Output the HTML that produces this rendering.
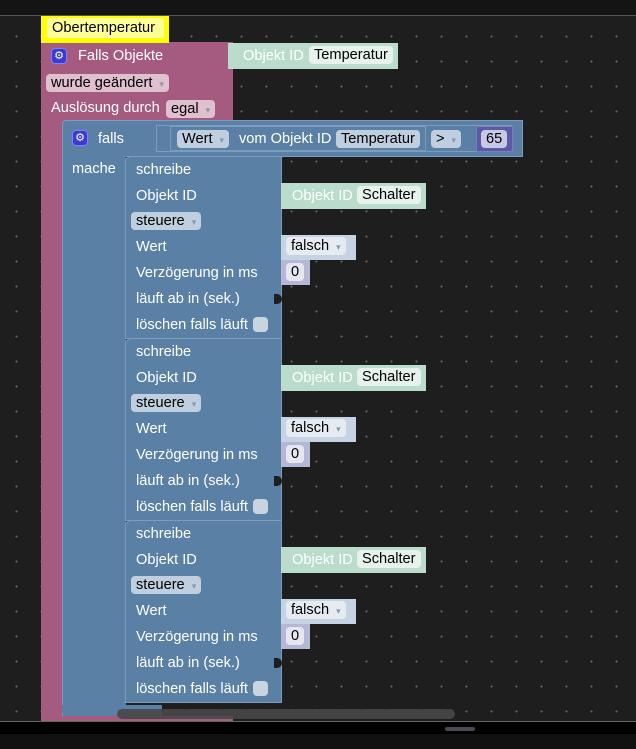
<!DOCTYPE html><html><head><meta charset="utf-8"><style>
*{margin:0;padding:0;box-sizing:border-box}
body{width:636px;height:749px;overflow:hidden;background:#1e1e1e;font-family:"Liberation Sans",sans-serif;font-size:14.6px;position:relative}
#grid{position:absolute;left:0;top:16px;width:636px;height:706px;background-image:radial-gradient(circle,#6a6a6a 0.8px,transparent 1.2px);background-size:25px 25px;background-position:4px 8px}
.a{position:absolute}
.t{position:absolute;color:#fff;white-space:nowrap;line-height:16px}
.f{position:absolute;background:#e6ebf0;color:#000;border-radius:4px;height:18px;line-height:18px;padding:0 5px;white-space:nowrap}
.dd:after{content:"▾";font-size:9px;color:#8898a8;margin-left:7px}
.pink{background:#a55b80}
.blue{background:#5b80a5}
.chk{position:absolute;width:15px;height:15px;background:#c8d4e0;border-radius:4px}
.gear{position:absolute;width:16px;height:16px;background:#3b3bd0;border-radius:4px;border:1px solid #8080ff;color:#fff;font-size:11px;line-height:14px;text-align:center}
</style></head><body>
<div class="a" style="left:0;top:0;width:636px;height:15px;background:#141414"></div>
<div class="a" style="left:0;top:15px;width:636px;height:1px;background:#555"></div>
<div id="grid"></div>

<div class="a pink" style="left:41px;top:42px;width:192px;height:80px"></div>
<div class="a pink" style="left:41px;top:120px;width:22px;height:602px"></div>
<div class="a pink" style="left:41px;top:716px;width:192px;height:6px"></div>
<div class="gear" style="left:51px;top:48px">⚙</div>
<div class="t" style="left:78px;top:48px">Falls Objekte</div>
<div class="f dd" style="left:46px;top:74px;background:#e0bfcf">wurde geändert</div>
<div class="t" style="left:51px;top:100px">Auslösung durch</div>
<div class="f dd" style="left:166px;top:100px;background:#e0bfcf">egal</div>
<div class="a" style="left:41px;top:16px;width:128px;height:27px;background:#ffff00"></div>
<div class="a" style="left:47px;top:18px;width:117px;height:20px;background:#ffff99;border-radius:3px"></div>
<div class="t" style="left:52px;top:20px;color:#000">Obertemperatur</div>
<div class="a" style="left:228px;top:43px;width:170px;height:26px;background:#b9dccb"></div>
<div class="t" style="left:243px;top:48px">Objekt ID</div>
<div class="f" style="left:309px;top:46px;background:#e8f2ed">Temperatur</div>

<div class="a blue" style="left:62px;top:120px;width:461px;height:37px;border:1px solid #7c9cbd;border-radius:4px 0 0 0"></div>
<div class="a blue" style="left:62px;top:156px;width:64px;height:560px;border-left:1px solid #7c9cbd"></div>
<div class="a blue" style="left:62px;top:705px;width:100px;height:11px;border-radius:0 0 0 5px"></div>
<div class="gear" style="left:72px;top:130px">⚙</div>
<div class="t" style="left:98px;top:131px">falls</div>
<div class="t" style="left:72px;top:161px">mache</div>
<div class="a" style="left:156px;top:125px;width:356px;height:27px;border:1px solid #7c9cbd"></div>
<div class="a" style="left:170px;top:126px;width:256px;height:25px;border:1px solid #7c9cbd"></div>
<div class="f dd" style="left:177px;top:130px;background:#bfcfdf">Wert</div>
<div class="t" style="left:239px;top:131px">vom Objekt ID</div>
<div class="f" style="left:336px;top:130px;background:#bfcfdf">Temperatur</div>
<div class="f dd" style="left:431px;top:130px;background:#bfcfdf">&gt;</div>
<div class="a" style="left:476px;top:126px;width:37px;height:26px;background:#5b5ba5;border:1px solid #7c7cc0"></div>
<div class="f" style="left:481px;top:130px;background:#c8c8e6">65</div>

<div id="s"></div>
<script>
var h='';
[156,338,520].forEach(function(y){
h+='<div class="a blue" style="left:125px;top:'+y+'px;width:157px;height:183px;border:1px solid #7c9cbd;border-radius:6px 0 0 0"></div>';
h+='<div class="t" style="left:136px;top:'+(y+6)+'px">schreibe</div>';
h+='<div class="t" style="left:136px;top:'+(y+32)+'px">Objekt ID</div>';
h+='<div class="f dd" style="left:131px;top:'+(y+56)+'px;background:#bfcfdf">steuere</div>';
h+='<div class="t" style="left:136px;top:'+(y+83)+'px">Wert</div>';
h+='<div class="t" style="left:136px;top:'+(y+109)+'px">Verzögerung in ms</div>';
h+='<div class="t" style="left:136px;top:'+(y+135)+'px">läuft ab in (sek.)</div>';
h+='<div class="t" style="left:136px;top:'+(y+161)+'px">löschen falls läuft</div>';
h+='<div class="chk" style="left:253px;top:'+(y+161)+'px"></div>';
h+='<div class="a" style="left:274px;top:'+(y+138)+'px;width:8px;height:10px;background:#1e1e1e;border-radius:0 5px 5px 0"></div>';
h+='<div class="a" style="left:281px;top:'+(y+27)+'px;width:145px;height:26px;background:#b9dccb"></div>';
h+='<div class="t" style="left:292px;top:'+(y+32)+'px">Objekt ID</div>';
h+='<div class="f" style="left:357px;top:'+(y+30)+'px;background:#e8f2ed">Schalter</div>';
h+='<div class="a" style="left:281px;top:'+(y+79)+'px;width:75px;height:25px;background:#c5d3e2"></div>';
h+='<div class="f dd" style="left:286px;top:'+(y+81)+'px;background:#e6ebf2">falsch</div>';
h+='<div class="a" style="left:281px;top:'+(y+104)+'px;width:29px;height:25px;background:#b4b7d6"></div>';
h+='<div class="f" style="left:286px;top:'+(y+107)+'px;background:#e6e6f2">0</div>';
});
document.getElementById('s').outerHTML=h;
</script>
<div class="a" style="left:117px;top:709px;width:338px;height:10px;background:#474747;border-radius:5px;opacity:.9"></div>
<div class="a" style="left:0;top:721px;width:636px;height:1px;background:#666"></div>
<div class="a" style="left:0;top:722px;width:636px;height:12px;background:#000"></div>
<div class="a" style="left:0;top:734px;width:636px;height:15px;background:#111"></div>
<div class="a" style="left:445px;top:727px;width:30px;height:4px;background:#4a4a5a;border-radius:2px"></div>
</body></html>
